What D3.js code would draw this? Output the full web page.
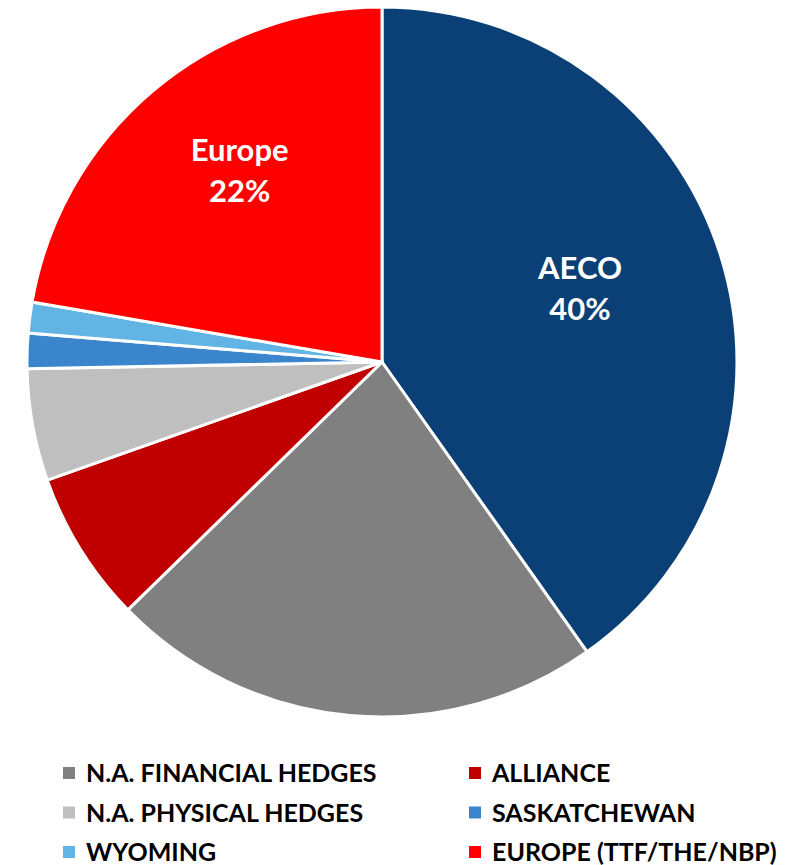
<!DOCTYPE html>
<html>
<head>
<meta charset="utf-8">
<script src="https://cdn.jsdelivr.net/npm/d3@7"></script>
<style>
  body { margin: 0; background: #fff; }
  text { font-family: Lato, "Open Sans", sans-serif; font-weight: bold; }
</style>
</head>
<body>
<svg width="805" height="865"></svg>
<script>
// slices, clockwise from 12 o'clock (values in %)
var names = ["AECO", "N.A. FINANCIAL HEDGES", "ALLIANCE", "N.A. PHYSICAL HEDGES", "SASKATCHEWAN", "WYOMING", "EUROPE (TTF/THE/NBP)"];
var values = [40.2, 22.5, 6.9, 5.1, 1.6, 1.4, 22.3];
var colors = ["#0b4077", "#808080", "#c00000", "#bfbfbf", "#3a85cc", "#62b4e4", "#ff0000"];
// in-slice labels (only two slices are labelled)
var sliceLabels = {0: ["AECO", "40%"], 6: ["Europe", "22%"]};
// legend entries (AECO is not in the legend), row by row
var legendItems = [1, 2, 3, 4, 5, 6];

var svg = d3.select("svg"),
    cx = 382, cy = 362,
    radius = 355;

var pie = d3.pie()
    .sort(null)
    .value(function(d) { return d; });

var arc = d3.arc()
    .innerRadius(0)
    .outerRadius(radius);

var g = svg.append("g")
    .attr("transform", "translate(" + cx + "," + cy + ")");

var arcs = pie(values);

g.selectAll("path")
  .data(arcs)
  .enter().append("path")
    .attr("d", arc)
    .style("fill", function(d, i) { return colors[i]; })
    .style("stroke", "#fff")
    .style("stroke-width", 3)
    .style("stroke-linejoin", "round");

// excel "best fit" placement, roughly: radius fraction + a small angle nudge (deg)
var labelPos = {0: [0.594, -2.5], 6: [0.672, 3.5]};
function labelXY(d) {
  var p = labelPos[d.index],
      a = (d.startAngle + d.endAngle) / 2 + p[1] * Math.PI / 180,
      r = radius * p[0];
  return [r * Math.sin(a), -r * Math.cos(a)];
}

var lab = g.selectAll(".slice-label")
  .data(arcs.filter(function(d, i) { return sliceLabels[i]; }))
  .enter().append("text")
    .attr("class", "slice-label")
    .attr("transform", function(d) { return "translate(" + labelXY(d) + ")"; })
    .attr("text-anchor", "middle")
    .style("fill", "#fff")
    .style("font-size", "31px");

lab.append("tspan")
    .attr("x", 0)
    .attr("y", -10)
    .text(function(d) { return sliceLabels[d.index][0]; });
lab.append("tspan")
    .attr("x", 0)
    .attr("y", 31)
    .text(function(d) { return sliceLabels[d.index][1]; });

// legend
var legend = svg.append("g")
    .attr("class", "legend");

var item = legend.selectAll("g")
  .data(legendItems)
  .enter().append("g")
    .attr("transform", function(d, i) {
      var col = i % 2, row = Math.floor(i / 2);
      return "translate(" + (63 + col * 406) + "," + (773 + row * 39.5) + ")";
    });

item.append("rect")
    .attr("x", 0)
    .attr("y", -6)
    .attr("width", 12)
    .attr("height", 12)
    .style("fill", function(d) { return colors[d]; });

item.append("text")
    .attr("x", 23)
    .attr("dy", "0.36em")
    .style("font-size", "25px")
    .style("fill", "#000")
    .text(function(d) { return names[d]; });
</script>
</body>
</html>
